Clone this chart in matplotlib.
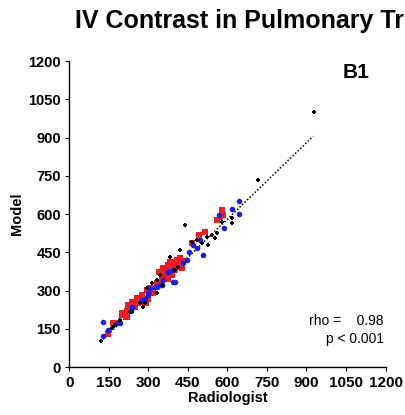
import matplotlib
matplotlib.use("Agg")
import matplotlib.pyplot as plt

plt.rcParams['font.family'] = ['Liberation Sans', 'DejaVu Sans']

title = "IV Contrast in Pulmonary Trunk"
panel_label = "B1"
x_label = "Radiologist"
y_label = "Model"
ticks = [0, 150, 300, 450, 600, 750, 900, 1050, 1200]

red_x = [148, 167, 205, 218, 230, 237, 249, 262, 268, 281, 291, 300, 306, 319, 332, 344,
         350, 363, 370, 376, 382, 395, 407, 414, 420, 426, 401, 388, 464, 493, 515, 559,
         578, 572, 585, 218, 199,
         173, 199, 224, 237, 256, 275, 294, 306, 332, 350, 369, 382, 262, 281,
         340, 357, 398, 410, 433, 376, 316]
red_y = [130, 172, 211, 222, 237, 251, 237, 270, 257, 264, 251, 266, 290, 309, 322, 335,
         355, 368, 381, 401, 414, 414, 420, 394, 427, 388, 381, 362, 486, 518, 531, 577,
         616, 590, 597, 198, 205,
         172, 211, 244, 257, 270, 283, 303, 309, 329, 342, 361, 371, 250, 264,
         372, 390, 402, 398, 418, 346, 292]

blue_x = [129, 129, 148, 192, 237, 275, 300, 325, 344, 401, 376, 388, 446, 456, 471, 483,
          506, 496, 569, 588, 616, 644, 644, 306, 357,
          186, 237, 300, 332, 350, 395, 288, 430]
blue_y = [179, 123, 146, 172, 237, 264, 290, 316, 322, 333, 375, 381, 420, 453, 479, 466,
          440, 499, 597, 547, 619, 653, 600, 309, 342,
          172, 231, 283, 316, 322, 335, 268, 410]

black_x = [119, 161, 173, 230, 279, 296, 332, 344, 414, 439, 521, 540, 553, 528, 559, 578,
           616, 616, 382, 420, 464, 483, 268, 313, 717, 930,
           167, 192, 237, 287, 332, 357, 400, 505]
black_y = [103, 153, 166, 218, 237, 309, 342, 362, 394, 557, 512, 518, 505, 479, 525, 570,
           564, 584, 433, 459, 492, 499, 251, 329, 734, 1001,
           159, 185, 218, 250, 290, 322, 380, 486]

fit_x = [119, 925]
fit_y = [100, 905]

rho_text = "rho =    0.98"
p_text = "p < 0.001"

fig = plt.figure(figsize=(4.05, 4.15), dpi=100)
ax = fig.add_axes([0.171, 0.115, 0.781, 0.738])

ax.plot(fit_x, fit_y, linestyle=(0, (1, 1.3)), color='black', linewidth=1.1, zorder=1)
ax.scatter(red_x, red_y, marker='s', s=22, color='#ec1c24', linewidths=0, zorder=2)
ax.scatter(blue_x, blue_y, marker='o', s=16, color='#1a1ee0', linewidths=0, zorder=3)
ax.scatter(black_x, black_y, marker='P', s=9, color='black', linewidths=0, zorder=4)

ax.set_xlim(0, 1200)
ax.set_ylim(0, 1200)
ax.set_xticks(ticks)
ax.set_yticks(ticks)
ax.set_xticklabels([str(t) for t in ticks], fontweight='bold', fontsize=11)
ax.set_yticklabels([str(t) for t in ticks], fontweight='bold', fontsize=10.5)
ax.tick_params(direction='out', length=3, width=0.8, pad=3)
for s in ['top', 'right']:
    ax.spines[s].set_visible(False)
for s in ['left', 'bottom']:
    ax.spines[s].set_linewidth(1.0)

ax.set_xlabel(x_label, fontweight='bold', fontsize=10.5, labelpad=1)
ax.set_ylabel(y_label, fontweight='bold', fontsize=10.5, labelpad=3)

fig.text(75 / 405, 1 - 21 / 415, title, fontsize=18, fontweight='bold', ha='left', va='center')
ax.text(0.907, 0.961, panel_label, transform=ax.transAxes, fontsize=15, fontweight='bold',
        ha='center', va='center')
ax.text(0.995, 0.151, rho_text, transform=ax.transAxes, fontsize=10, ha='right', va='center')
ax.text(0.995, 0.092, p_text, transform=ax.transAxes, fontsize=10, ha='right', va='center')

fig.savefig("out.png", dpi=100)
